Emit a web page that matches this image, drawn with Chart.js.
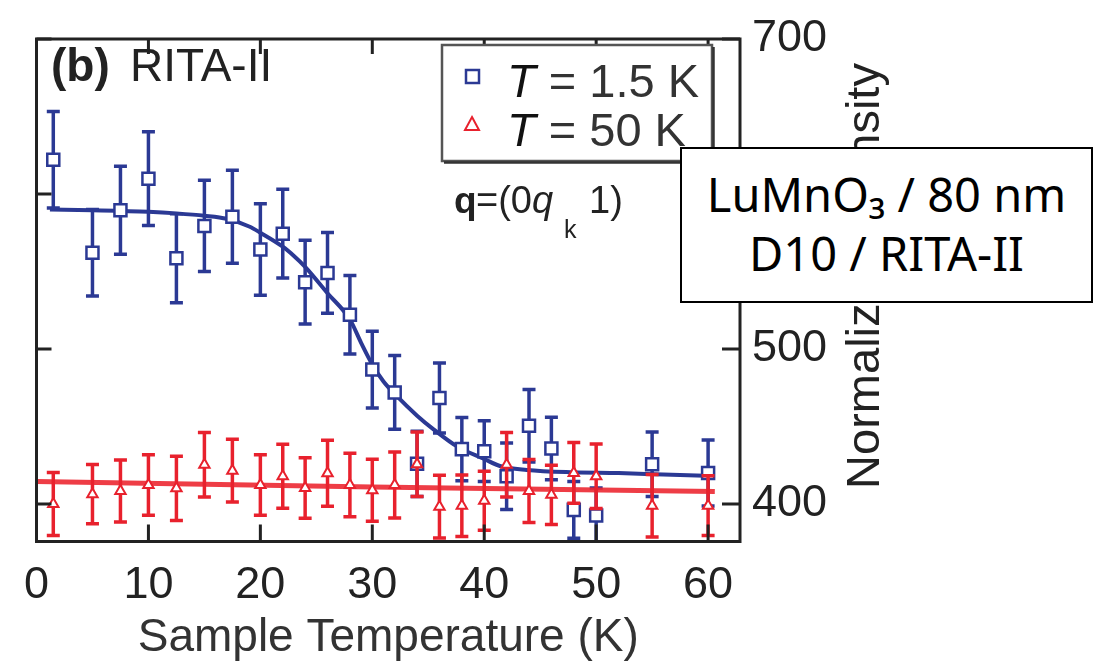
<!DOCTYPE html>
<html>
<head>
<meta charset="utf-8">
<title>LuMnO3 peak intensity vs sample temperature</title>
<script src="https://cdn.jsdelivr.net/npm/chart.js@4.4.1/dist/chart.umd.min.js"></script>
<style>
    html, body { margin: 0; padding: 0; background: #fff; }
    #wrap { position: relative; width: 1102px; height: 666px; }
    #note {
        position: absolute; left: 680px; top: 147px; width: 413px; height: 156px;
        box-sizing: border-box; border: 2px solid #000; background: #fff;
        padding-top: 16px; text-align: center; color: #000;
        font-family: "Noto Sans", "Open Sans", sans-serif; font-size: 47px; line-height: 59px;
    }
</style>
</head>
<body>
<div id="wrap">
    <canvas id="intensityChart" width="1102" height="666"></canvas>
    <div id="note">LuMnO₃ / 80 nm<br>D10 / RITA-II</div>
</div>
<script>
// Sample temperatures (K), same for both scans
const temps = [1.5, 5, 7.5, 10, 12.5, 15, 17.5, 20, 22, 24, 26, 28, 30, 32, 34, 36, 38, 40, 42, 44, 46, 48, 50, 55, 60];

// T = 1.5 K series (blue squares) and error bars
const lowT = [622.1, 562.1, 589.5, 609.9, 558.6, 579.4, 585.3, 564.2, 574.4, 543.1, 549.1, 522.1, 486.7,
              472.0, 425.9, 468.4, 435.4, 434.1, 417.9, 450.5, 435.8, 396.2, 392.6, 425.6, 420.0];
const lowTErr = [31.1, 27.9, 28.4, 30.2, 28.7, 29.4, 30.0, 29.5, 28.6, 27.0, 26.1, 25.3, 24.7,
                 23.8, 21.0, 22.6, 20.4, 19.6, 21.5, 23.4, 20.2, 18.3, 17.7, 20.8, 21.3];

// T = 50 K series (red triangles) and error bars
const highT = [400.0, 406.3, 408.4, 412.2, 410.1, 425.3, 421.5, 412.2, 417.9, 410.3, 419.8, 412.2, 408.8,
               412.2, 425.6, 398.3, 398.9, 402.1, 425.3, 408.4, 405.9, 420.0, 417.9, 398.9, 398.9];
const highTErr = [20.3, 19.1, 20.0, 19.5, 20.7, 20.8, 20.2, 19.5, 20.7, 19.5, 21.3, 20.5, 20.0,
                  21.3, 20.8, 20.2, 19.8, 19.1, 20.8, 20.3, 19.1, 19.6, 20.8, 20.2, 19.3];

// fit curves
const lowFitT = [1.2, 5, 10, 12.5, 15, 17, 19, 20, 22, 23, 24, 26, 28, 29, 30, 31, 32, 34, 35.5, 37.6, 40, 41.4, 43.8, 48, 52, 56, 60.5];
const lowFit  = [590, 589.5, 588.5, 587.5, 586, 584, 579, 575, 566, 560, 553, 536, 519, 504, 490, 479, 471, 457, 448, 437, 429, 424.5, 422, 420.5, 420, 419, 418];
const highFitT = [0, 30, 60.6];
const highFit  = [414.5, 411, 408];

const xTicks = [0, 10, 20, 30, 40, 50, 60];
const yTicks = [400, 500, 600, 700];

const BLUE = '#2b3994';
const RED = '#e8212d';
const SANS = '"Liberation Sans", Arial, sans-serif';

const toPoints = (xs, ys) => xs.map((v, i) => ({ x: v, y: ys[i] }));

// error bars are drawn just before the markers of their dataset
const errorBars = {
    id: 'errorBars',
    beforeDatasetDraw(chart, args) {
        const ds = chart.data.datasets[args.index];
        if (!ds.errors) return;
        const { ctx, chartArea: a, scales: { x, y } } = chart;
        ctx.save();
        ctx.beginPath();
        ctx.rect(a.left, a.top, a.right - a.left, a.bottom - a.top);
        ctx.clip();
        ctx.strokeStyle = ds.borderColor;
        ctx.lineWidth = 3.5;
        ds.data.forEach((p, i) => {
            const px = x.getPixelForValue(p.x);
            const top = y.getPixelForValue(p.y + ds.errors[i]);
            const bot = y.getPixelForValue(p.y - ds.errors[i]);
            ctx.beginPath();
            ctx.moveTo(px, top); ctx.lineTo(px, bot);
            ctx.moveTo(px - 6.5, top); ctx.lineTo(px + 6.5, top);
            ctx.moveTo(px - 6.5, bot); ctx.lineTo(px + 6.5, bot);
            ctx.stroke();
        });
        ctx.restore();
    }
};

// box frame, inward ticks, right-hand title, legend and labels
const decorations = {
    id: 'decorations',
    afterDraw(chart) {
        const { ctx, chartArea: a, scales: { x, y } } = chart;
        ctx.save();

        ctx.strokeStyle = '#222';
        ctx.lineWidth = 3;
        ctx.strokeRect(a.left, a.top, a.right - a.left, a.bottom - a.top);
        ctx.beginPath();
        xTicks.forEach(v => {
            const px = x.getPixelForValue(v);
            ctx.moveTo(px, a.bottom); ctx.lineTo(px, a.bottom - 17);
            ctx.moveTo(px, a.top); ctx.lineTo(px, a.top + 15);
        });
        yTicks.forEach(v => {
            const py = y.getPixelForValue(v);
            ctx.moveTo(a.left, py); ctx.lineTo(a.left + 15, py);
            ctx.moveTo(a.right, py); ctx.lineTo(a.right - 18, py);
        });
        ctx.stroke();

        // y axis title, reading bottom to top
        ctx.save();
        ctx.translate(866, 276);
        ctx.rotate(-Math.PI / 2);
        ctx.font = '47px ' + SANS;
        ctx.fillStyle = '#222';
        ctx.textAlign = 'center';
        ctx.textBaseline = 'middle';
        ctx.fillText('Normalized Intensity', 0, 0);
        ctx.restore();

        // legend
        ctx.fillStyle = '#fff';
        ctx.fillRect(442, 45, 270, 116);
        ctx.strokeStyle = '#555';
        ctx.lineWidth = 2.5;
        ctx.strokeRect(442, 45, 270, 116);
        ctx.strokeStyle = '#333';
        ctx.beginPath();
        ctx.moveTo(444, 162.5); ctx.lineTo(713.5, 162.5); ctx.lineTo(713.5, 47);
        ctx.stroke();

        ctx.lineWidth = 2.5;
        ctx.strokeStyle = BLUE;
        ctx.fillStyle = '#fff';
        ctx.fillRect(466, 70, 13, 13);
        ctx.strokeRect(466, 70, 13, 13);
        ctx.strokeStyle = RED;
        ctx.lineWidth = 2;
        ctx.beginPath();
        ctx.moveTo(472, 117); ctx.lineTo(479, 130); ctx.lineTo(465, 130); ctx.closePath();
        ctx.fill(); ctx.stroke();

        const legendRow = (label, base) => {
            ctx.font = 'italic 47px ' + SANS;
            ctx.fillStyle = '#111';
            ctx.textAlign = 'left';
            ctx.textBaseline = 'alphabetic';
            ctx.fillText('T', 507, base);
            const w = ctx.measureText('T').width;
            ctx.font = '47px ' + SANS;
            ctx.fillStyle = '#333';
            ctx.fillText(label, 507 + w, base);
        };
        legendRow(' = 1.5 K', 97);
        legendRow(' = 50 K', 146);

        // panel label
        ctx.fillStyle = '#222';
        ctx.font = 'bold 46px ' + SANS;
        ctx.fillText('(b)', 51, 81);
        ctx.font = '46px ' + SANS;
        ctx.fillText('RITA-II', 130, 81);

        // wave vector
        ctx.font = 'bold 37px ' + SANS;
        ctx.fillText('q', 454, 213);
        ctx.font = '38px ' + SANS;
        ctx.fillText('=(0', 476, 213);
        ctx.font = 'italic 38px ' + SANS;
        ctx.fillText('q', 532, 213);
        ctx.font = '25px ' + SANS;
        ctx.fillText('k', 564, 238);
        ctx.font = '38px ' + SANS;
        ctx.fillText('1)', 589, 213);

        ctx.restore();
    }
};

new Chart(document.getElementById('intensityChart'), {
    type: 'scatter',
    data: {
        datasets: [{
            label: 'fit 1.5 K',
            data: toPoints(lowFitT, lowFit),
            showLine: true,
            borderColor: BLUE,
            borderWidth: 4,
            pointRadius: 0,
            cubicInterpolationMode: 'monotone',
            order: 6
        }, {
            label: 'T = 1.5 K',
            data: toPoints(temps, lowT),
            errors: lowTErr,
            borderColor: BLUE,
            backgroundColor: '#fff',
            pointStyle: 'rect',
            pointRadius: 8.5,
            pointBorderWidth: 2.5,
            order: 5
        }, {
            label: 'fit 50 K',
            data: toPoints(highFitT, highFit),
            showLine: true,
            borderColor: 'rgba(236, 40, 50, 0.9)',
            borderWidth: 5,
            pointRadius: 0,
            order: 4
        }, {
            label: 'T = 50 K',
            data: toPoints(temps, highT),
            errors: highTErr,
            borderColor: RED,
            backgroundColor: '#fff',
            pointStyle: 'triangle',
            pointRadius: 6,
            pointBorderWidth: 2,
            order: 3
        }]
    },
    options: {
        responsive: false,
        animation: false,
        devicePixelRatio: 1,
        layout: { padding: { left: 36.5, top: 30, right: 0, bottom: 0 } },
        plugins: { legend: { display: false }, tooltip: { enabled: false } },
        scales: {
            x: {
                type: 'linear',
                min: 0,
                max: 62.85,
                grid: { display: false, drawTicks: false },
                border: { display: false },
                afterBuildTicks: s => { s.ticks = xTicks.map(v => ({ value: v })); },
                afterFit: s => { s.height = 124.5; },
                ticks: { padding: 17, maxRotation: 0, autoSkip: false, color: '#222', font: { family: SANS, size: 45 } },
                title: { display: true, text: 'Sample Temperature (K)', color: '#333', padding: 0, font: { family: SANS, size: 46 } }
            },
            y: {
                type: 'linear',
                position: 'right',
                min: 375.8,
                max: 700,
                grid: { display: false, drawTicks: false },
                border: { display: false },
                afterBuildTicks: s => { s.ticks = yTicks.map(v => ({ value: v })); },
                afterFit: s => { s.width = 362; },
                ticks: { padding: 12, color: '#222', font: { family: SANS, size: 45 } }
            }
        }
    },
    plugins: [errorBars, decorations]
});
</script>
</body>
</html>
